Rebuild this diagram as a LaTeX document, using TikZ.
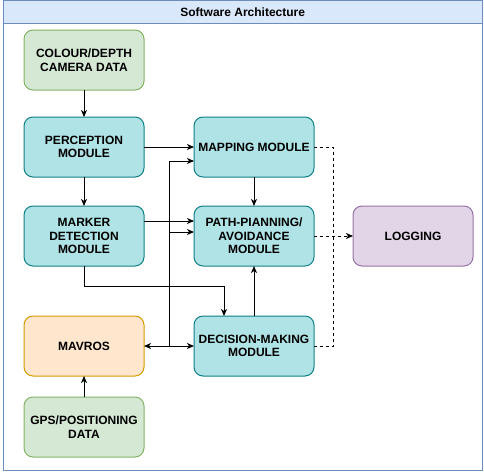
\documentclass[tikz,border=0pt]{standalone}
\usepackage{fontspec}
\setmainfont{Liberation Sans}
\usetikzlibrary{positioning}
\usetikzlibrary{arrows.meta}
\usetikzlibrary{calc}

\definecolor{srcfill}{HTML}{D5E8D4}
\definecolor{srcline}{HTML}{82B366}
\definecolor{modfill}{HTML}{B0E3E6}
\definecolor{modline}{HTML}{0E8088}
\definecolor{mavfill}{HTML}{FFE6CC}
\definecolor{mavline}{HTML}{D79B00}
\definecolor{logfill}{HTML}{E1D5E7}
\definecolor{logline}{HTML}{9673A6}
\definecolor{laneFill}{HTML}{DAE8FC}
\definecolor{laneLine}{HTML}{6C8EBF}

\begin{document}
\begin{tikzpicture} [
    x=1pt, y=-1pt,
    every node/.style = {font=\fontsize{12pt}{13.5pt}\selectfont\bfseries, align=center},
    box/.style = {draw, line width=1pt, rounded corners=9pt, minimum width=120pt, minimum height=60pt, inner sep=0pt, outer sep=0pt},
    source/.style = {box, fill=srcfill, draw=srcline},
    module/.style = {box, fill=modfill, draw=modline},
    mavros/.style = {box, fill=mavfill, draw=mavline},
    logbox/.style = {box, fill=logfill, draw=logline},
    link/.style = {line width=1pt, -{Stealth[length=7pt,width=6pt,inset=2pt]}},
    dlink/.style = {line width=1pt, dashed, dash pattern=on 3pt off 3pt}
    ]
    \useasboundingbox (0,0) rectangle (484,474);
    \draw[laneLine, line width=1pt] (3,0.5) rectangle (482.5,470);
    \filldraw[fill=laneFill, draw=laneLine, line width=1pt] (3,0.5) rectangle (482.5,23);
    \node (title) at (242.75,12) {Software Architecture};

    \node[source] (cam) at (84,60) {COLOUR/DEPTH\\CAMERA DATA};
    \node[module, below=27pt of cam] (perc) {PERCEPTION\\MODULE};
    \node[module, below=29pt of perc] (mark) {MARKER\\DETECTION\\MODULE};
    \node[mavros, below=50pt of mark] (mav) {MAVROS};
    \node[source, below=21pt of mav] (gps) {GPS/POSITIONING\\DATA};

    \node[module, right=50pt of perc] (map) {MAPPING MODULE};
    \node[module, right=50pt of mark] (path) {PATH-PIANNING/\\AVOIDANCE\\MODULE};
    \node[module, right=50pt of mav] (dec) {DECISION-MAKING\\MODULE};
    \node[logbox, right=39pt of path] (log) {LOGGING};

    \coordinate (jn) at ($(mav.east)!0.5!(dec.west)$);
    \coordinate (dj) at ($(path.east)!0.5!(log.west)$);

    \draw[link] (cam) -- (perc);
    \draw[link] (perc) -- (mark);
    \draw[link] (gps) -- (mav);
    \draw[link] (perc) -- (map);
    \draw[link] ([yshift=15pt]mark.east) -- ([yshift=15pt]path.west);
    \draw[link, {Stealth[length=7pt,width=6pt,inset=2pt]}-{Stealth[length=7pt,width=6pt,inset=2pt]}] (mav) -- (dec);
    \draw[link] (jn) |- ([yshift=-14pt]map.west);
    \draw[link] (jn) |- ([yshift=4pt]path.west);
    \draw[link] (mark.south) -- ++(0,20) -| ([xshift=-30pt]dec.north);
    \draw[link] (dec) -- (path);
    \draw[link] (map) -- (path);

    \draw[dlink] (map.east) -| (dj);
    \draw[dlink] (dec.east) -| (dj);
    \draw[dlink, -{Stealth[length=7pt,width=6pt,inset=2pt]}] (path) -- (log);
\end{tikzpicture}
\end{document}
